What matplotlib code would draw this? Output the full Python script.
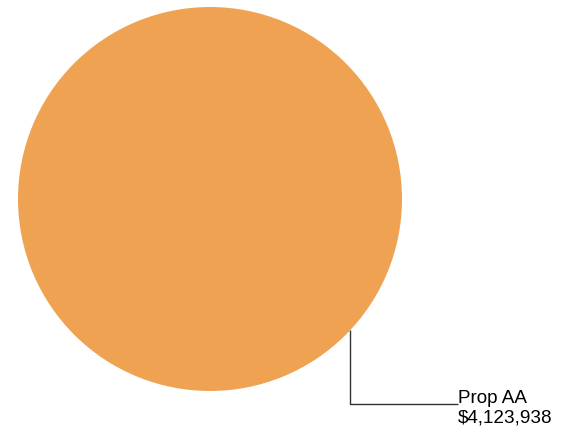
import matplotlib.pyplot as plt
import numpy as np

# data
labels = ['Prop AA']
values = [4123938]
colors = ['#EFA352']

W, H = 568, 427
fig = plt.figure(figsize=(W / 100, H / 100), dpi=100)
ax = fig.add_axes([0, 0, 1, 1])

cx, cy, r = 210, 200, 192
ax.pie(values, colors=colors, center=(cx, cy), radius=r, startangle=90,
       counterclock=False, frame=True, wedgeprops=dict(linewidth=0))
ax.set_xlim(0, W)
ax.set_ylim(H, 0)
ax.axis('off')

# leader line from the edge of the pie
lx = 350
ly = cy + np.sqrt(r ** 2 - (lx - cx) ** 2)
ax.plot([lx, lx, 458], [ly, 405, 405], color='#333333', lw=1.0,
        solid_capstyle='butt')

for lab, val in zip(labels, values):
    ax.text(458, 403, lab, fontsize=13.6, family='Liberation Sans',
            ha='left', va='baseline', color='black')
    ax.text(458, 423, f'${val:,}', fontsize=13.6, family='Liberation Sans',
            ha='left', va='baseline', color='black')

fig.savefig('out.png', dpi=100)
